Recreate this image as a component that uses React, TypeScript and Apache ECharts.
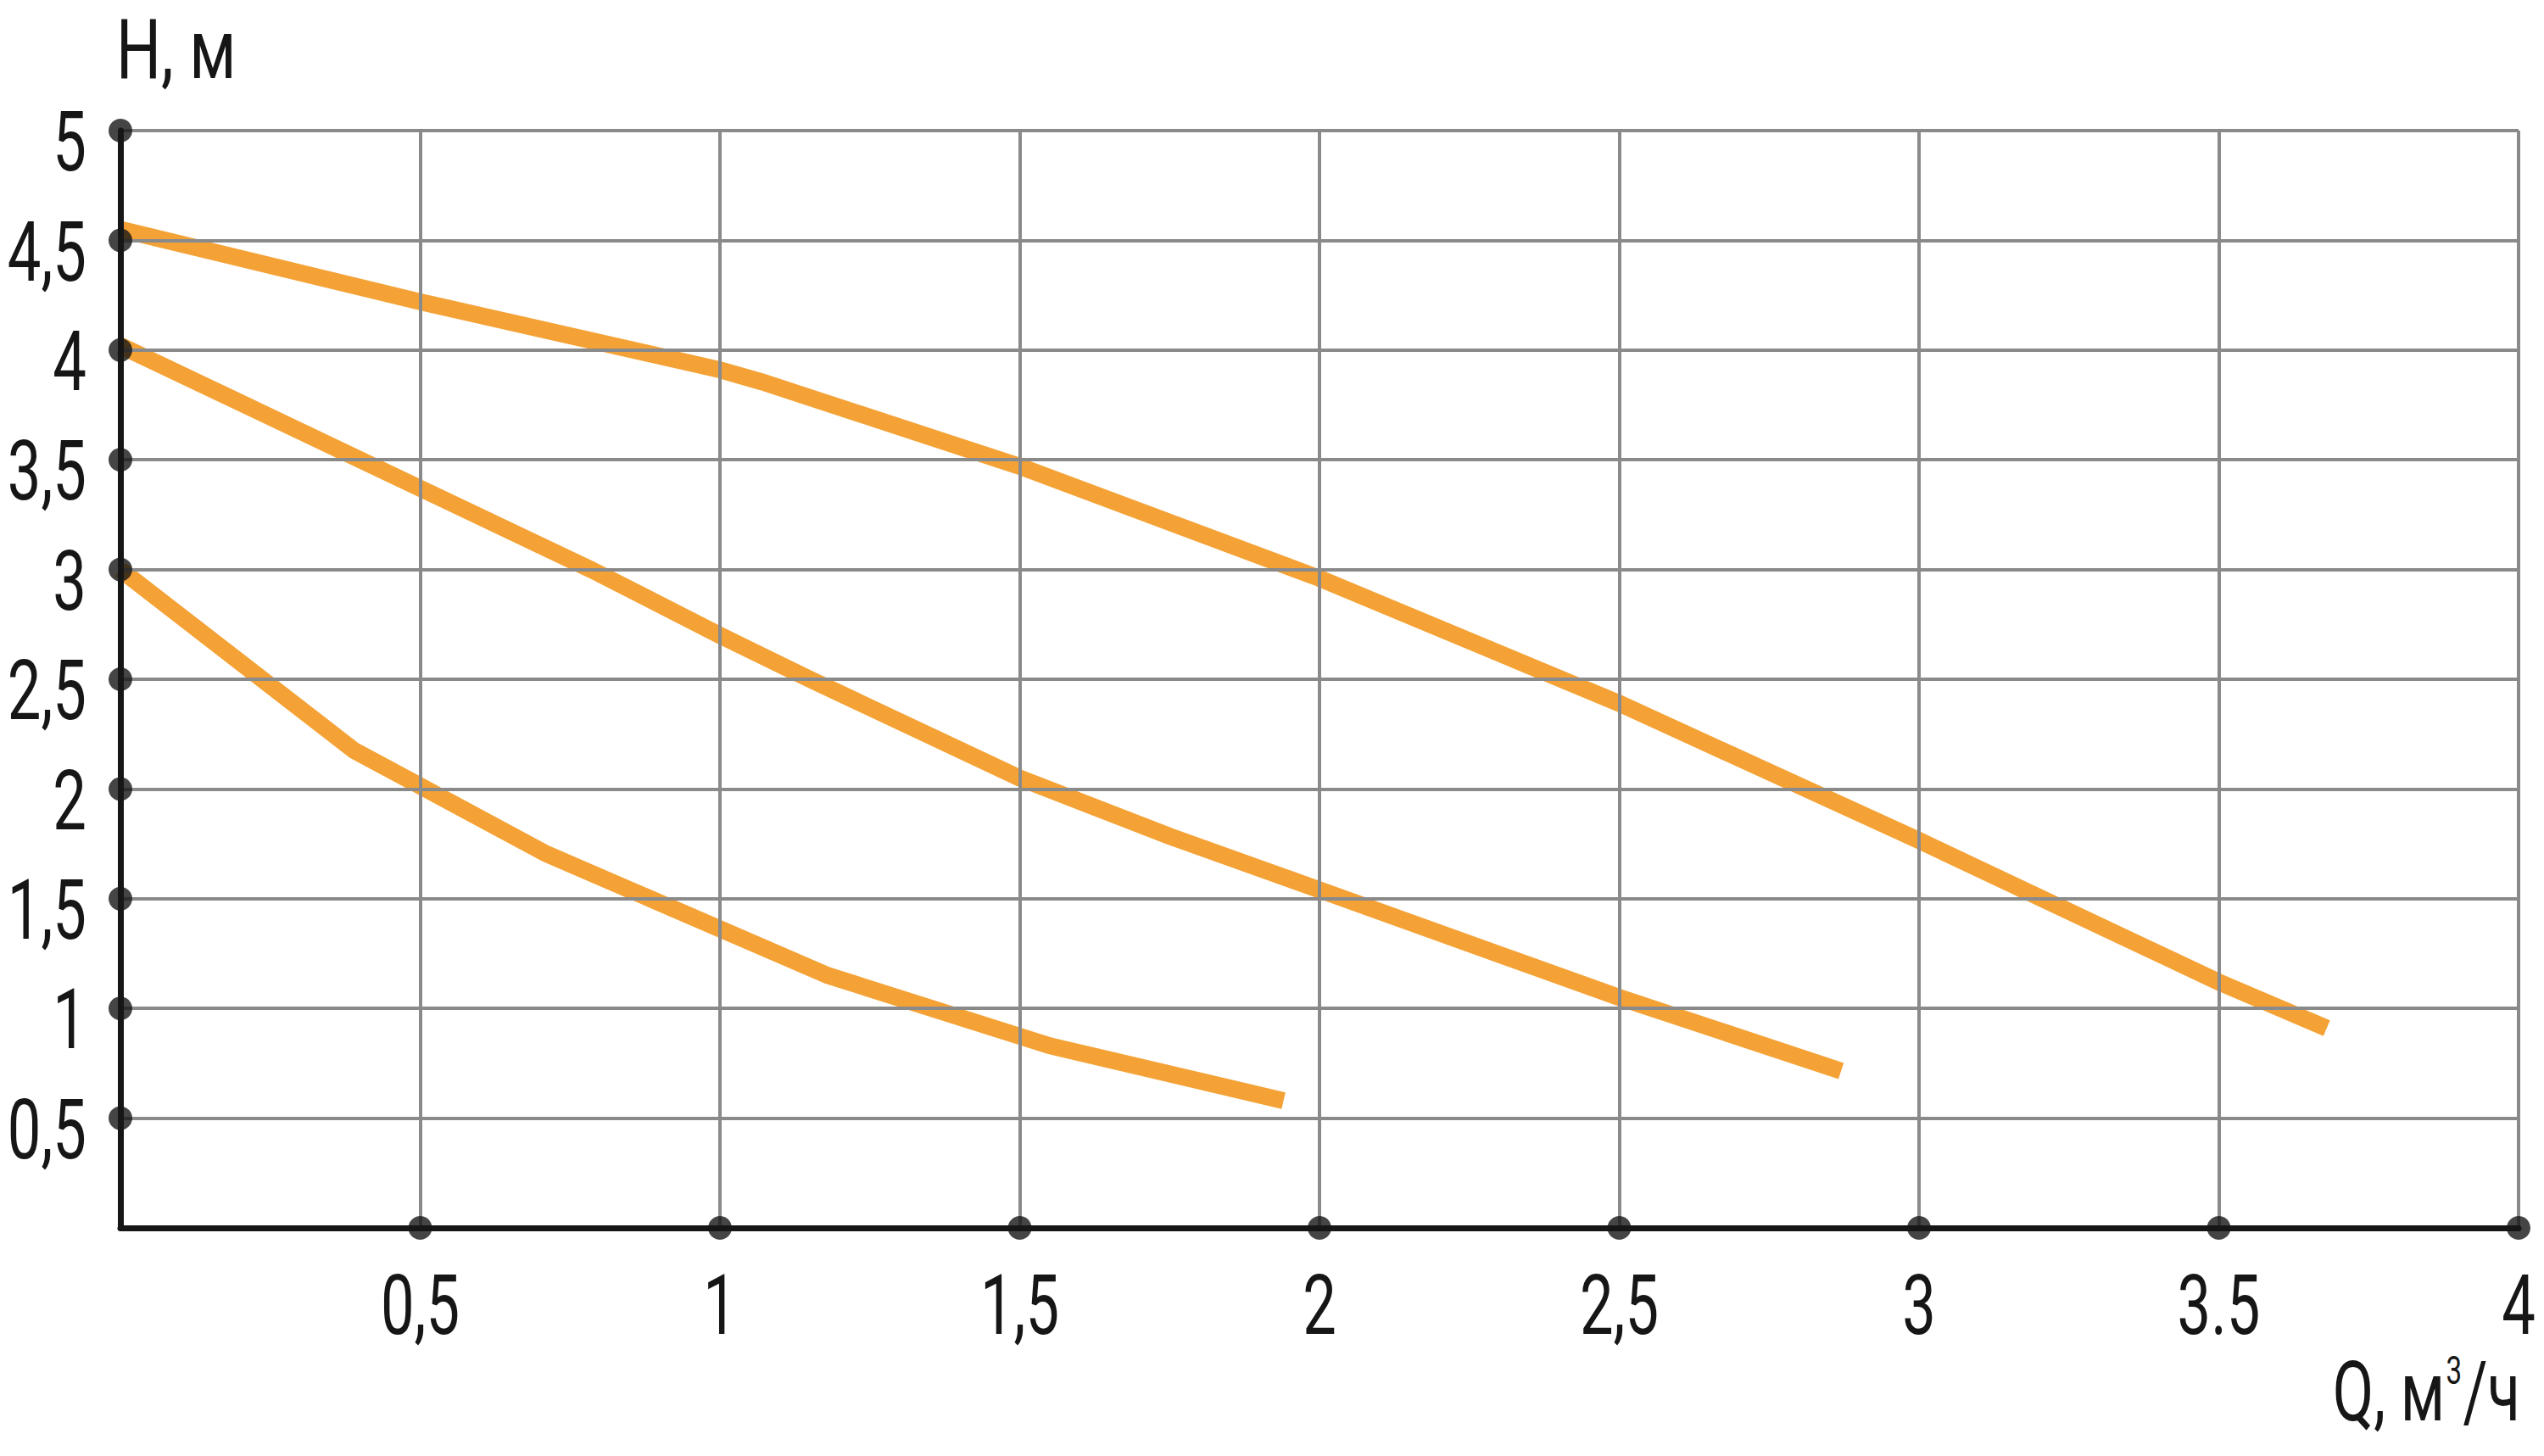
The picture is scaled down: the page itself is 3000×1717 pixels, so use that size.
import React, { useEffect, useRef } from "react";
import * as echarts from "echarts";

// Q, m3/h (x) vs H, m (y)
const curveTop: [number, number][] = [
  [0, 4.55], [0.5, 4.22], [1.0, 3.91], [1.07, 3.855], [1.5, 3.47],
  [2.0, 2.96], [2.5, 2.39], [3.0, 1.765], [3.5, 1.12], [3.68, 0.91],
];
const curveMid: [number, number][] = [
  [0, 4.02], [0.4, 3.5], [0.785, 3.0], [1.0, 2.7], [1.15, 2.5],
  [1.5, 2.05], [1.75, 1.785], [2.0, 1.54], [2.5, 1.05], [2.87, 0.715],
];
const curveLow: [number, number][] = [
  [0, 3.0], [0.39, 2.175], [0.71, 1.705], [1.18, 1.15], [1.55, 0.83], [1.94, 0.58],
];

const xTicks = [0, 0.5, 1, 1.5, 2, 2.5, 3, 3.5, 4];
const xTickLabels = ["", "0,5", "1", "1,5", "2", "2,5", "3", "3.5", "4"];
const yTicks = [0, 0.5, 1, 1.5, 2, 2.5, 3, 3.5, 4, 4.5, 5];
const yTickLabels = ["", "0,5", "1", "1,5", "2", "2,5", "3", "3,5", "4", "4,5", "5"];

const FONT = 'Roboto, "Liberation Sans", sans-serif';
const FS = 98;
const SX = 0.72;
const ORANGE = "#F4A236";
const INK = "#161616";
const GRID = "#8a8a8a";

export default function App() {
  const ref = useRef<HTMLDivElement>(null);
  useEffect(() => {
    if (!ref.current) return;
    const chart = echarts.init(ref.current, undefined, { renderer: "svg" });
    const lineSeries = [curveTop, curveMid, curveLow].map((d) => ({
      type: "line",
      data: d,
      showSymbol: false,
      symbol: "none",
      z: 2,
      lineStyle: { color: ORANGE, width: 20, cap: "butt", join: "miter" },
      clip: false,
    }));
    const xDots = xTicks.filter((v) => v > 0).map((v) => [v, 0]);
    const yDots = yTicks.filter((v) => v > 0).map((v) => [0, v]);
    chart.setOption({
      animation: false,
      backgroundColor: "#ffffff",
      grid: { left: 142, right: 30, top: 154, bottom: 269, containLabel: false, outerBoundsMode: "none" },
      xAxis: {
        type: "value",
        min: 0,
        max: 4,
        interval: 0.5,
        z: 3,
        axisLine: { show: true, onZero: false, lineStyle: { color: INK, width: 7 } },
        axisTick: { show: false },
        splitLine: { show: true, lineStyle: { color: GRID, width: 4 } },
        axisLabel: { show: false },
      },
      yAxis: {
        type: "value",
        min: 0,
        max: 5,
        interval: 0.5,
        z: 3,
        axisLine: { show: true, onZero: false, lineStyle: { color: INK, width: 7 } },
        axisTick: { show: false },
        splitLine: { show: true, lineStyle: { color: GRID, width: 4 } },
        axisLabel: { show: false },
      },
      series: [
        ...lineSeries,
        {
          type: "scatter",
          data: [...xDots, ...yDots],
          symbol: "circle",
          symbolSize: 28,
          itemStyle: { color: INK },
          z: 5,
          clip: false,
          silent: true,
        },
      ],
    });

    const toPx = (x: number, y: number) => chart.convertToPixel({ gridIndex: 0 }, [x, y]) as number[];
    const txt = (text: string, x: number, y: number, align: string, extra: any = {}, sx: number = SX) => ({
      type: "text",
      x,
      y,
      scaleX: sx,
      z: 10,
      style: {
        text,
        x: 0,
        y: 0,
        align,
        verticalAlign: "middle",
        fontFamily: FONT,
        fontWeight: 400,
        fontSize: FS,
        fill: INK,
        ...extra,
      },
    });
    const graphics: any[] = [];
    xTicks.forEach((v, i) => {
      const lbl = xTickLabels[i];
      if (!lbl) return;
      const p = toPx(v, 0);
      graphics.push(txt(lbl, p[0], p[1] + 92, "center"));
    });
    yTicks.forEach((v, i) => {
      const lbl = yTickLabels[i];
      if (!lbl) return;
      const p = toPx(0, v);
      graphics.push(txt(lbl, p[0] - 40, p[1] + 14, "right"));
    });
    const origin = toPx(0, 5);
    graphics.push(txt("H, м", origin[0] - 5, origin[1] - 96, "left", { lineHeight: 80 }, 0.76));
    const xEnd = toPx(4, 0);
    graphics.push(
      txt("Q, м{sup|3}/ч", xEnd[0] + 2, xEnd[1] + 194, "right", {
        rich: {
          sup: {
            fontFamily: FONT,
            fontWeight: 400,
            fontSize: 46,
            fill: INK,
            verticalAlign: "top",
            padding: [0, 2, 34, 2],
          },
        },
      })
    );
    chart.setOption({ graphic: graphics });
    return () => chart.dispose();
  }, []);
  return (
    <div
      ref={ref}
      style={{ position: "absolute", left: 0, top: 0, width: 3000, height: 1717, background: "#fff" }}
    />
  );
}
